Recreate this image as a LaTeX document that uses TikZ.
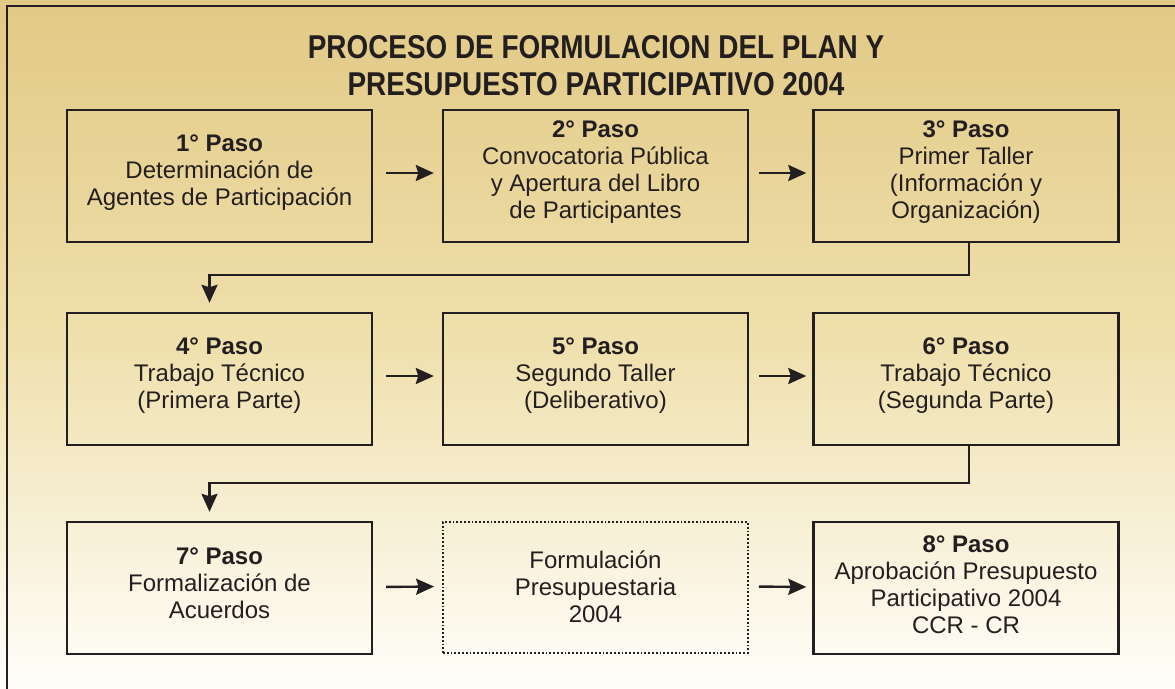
\documentclass[tikz,border=0pt]{standalone}
\usepackage{fontspec}
\setmainfont{Liberation Sans}
\newfontfamily\titlefont[FakeStretch=0.845]{Liberation Sans}
\usetikzlibrary{arrows.meta}
\definecolor{ink}{HTML}{231F20}
\definecolor{bgtop}{HTML}{E2C985}
\definecolor{bgmid}{HTML}{EFE0AD}
\definecolor{bgbot}{HTML}{FFFEFA}
\tikzset{
  stepbox/.style={draw=ink, line width=2.4pt, minimum width=305pt, minimum height=132pt, inner sep=0pt},
  dotbox/.style={draw=ink, line width=1.8pt, dotted, minimum width=305pt, minimum height=131pt, inner sep=0pt},
  steptext/.style={text=ink, align=center, font=\fontsize{24}{27}\selectfont},
  flow/.style={draw=ink, line width=2.4pt, -{Stealth[length=18pt,width=16pt,inset=2.5pt]}},
}
\begin{document}
\begin{tikzpicture}[x=1pt,y=-1pt]
\useasboundingbox (0,0) rectangle (1175,688);
\shade[top color=bgtop, bottom color=bgbot, middle color=bgmid] (0,0) rectangle (1175,688);
\draw[ink, line width=2.4pt] (7,6) rectangle (1190,700);
\node[text=ink, align=center, font=\titlefont\bfseries\fontsize{33}{37}\selectfont] (title) at (596,66) {PROCESO DE FORMULACION DEL PLAN Y\\PRESUPUESTO PARTICIPATIVO 2004};
% row 1
\node[stepbox] (b1) at (219.5,176) {};
\node[stepbox] (b2) at (595.5,176) {};
\node[stepbox] (b3) at (966,176) {};
\node[steptext] (t1) at (219.5,173) {\textbf{1° Paso}\\Determinación de\\Agentes de Participación};
\node[steptext] (t2) at (595.5,172) {\textbf{2° Paso}\\Convocatoria Pública\\y Apertura del Libro\\de Participantes};
\node[steptext] (t3) at (966,172) {\textbf{3° Paso}\\Primer Taller\\(Información y\\Organización)};
% row 2
\node[stepbox] (b4) at (219.5,379) {};
\node[stepbox] (b5) at (595.5,379) {};
\node[stepbox] (b6) at (966,379) {};
\node[steptext] (t4) at (219.5,376) {\textbf{4° Paso}\\Trabajo Técnico\\(Primera Parte)};
\node[steptext] (t5) at (595.5,376) {\textbf{5° Paso}\\Segundo Taller\\(Deliberativo)};
\node[steptext] (t6) at (966,376) {\textbf{6° Paso}\\Trabajo Técnico\\(Segunda Parte)};
% row 3
\node[stepbox] (b7) at (219.5,588) {};
\node[dotbox] (b8) at (595.5,587.5) {};
\node[stepbox] (b9) at (966,588) {};
\node[steptext] (t7) at (219.5,583) {\textbf{7° Paso}\\Formalización de\\Acuerdos};
\node[steptext] (t8) at (595.5,587) {Formulación\\Presupuestaria\\2004};
\node[steptext] (t9) at (966,585) {\textbf{8° Paso}\\Aprobación Presupuesto\\Participativo 2004\\CCR - CR};
% horizontal arrows
\draw[flow, shorten <=13pt, shorten >=8pt] ([yshift=3pt]b1.east) -- ([yshift=3pt]b2.west);
\draw[flow, shorten <=10pt, shorten >=6pt] ([yshift=3pt]b2.east) -- ([yshift=3pt]b3.west);
\draw[flow, shorten <=13pt, shorten >=8pt] ([yshift=3pt]b4.east) -- ([yshift=3pt]b5.west);
\draw[flow, shorten <=10pt, shorten >=6pt] ([yshift=3pt]b5.east) -- ([yshift=3pt]b6.west);
\draw[flow, shorten <=13pt, shorten >=8pt] ([yshift=1pt]b7.east) -- ([yshift=1pt]b8.west);
\draw[flow, shorten <=10pt, shorten >=6pt] ([yshift=1pt]b8.east) -- ([yshift=1pt]b9.west);
% elbow connectors
\draw[flow, shorten >=9pt] ([xshift=3pt]b3.south) -- ++(0,32) -| ([xshift=-10pt]b4.north);
\draw[flow, shorten >=9pt] ([xshift=3pt]b6.south) -- ++(0,37) -| ([xshift=-10pt]b7.north);
\end{tikzpicture}
\end{document}
